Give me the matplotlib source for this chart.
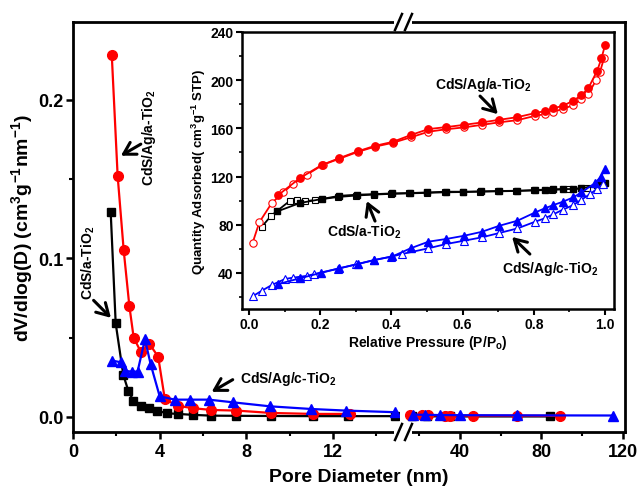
import numpy as np
import matplotlib
matplotlib.use("Agg")
import matplotlib.pyplot as plt
from matplotlib.lines import Line2D
from matplotlib.patches import Rectangle

# ================================
# Dados - distribuição de poros (gráfico principal)
# ================================
# segmento 1 (0-15 nm)
ag_a_x = [1.79, 2.06, 2.34, 2.6, 2.8, 3.13, 3.53, 3.93, 4.24, 4.85, 5.54, 6.39, 7.54, 9.16, 11.07, 12.76]
ag_a_y = [0.228, 0.152, 0.105, 0.070, 0.050, 0.041, 0.046, 0.038, 0.011, 0.007, 0.0055, 0.0044, 0.004, 0.0025, 0.0019, 0.0019]

ag_c_x = [1.81, 2.2, 2.4, 2.7, 2.98, 3.32, 3.58, 4.0, 4.7, 5.39, 6.27, 7.39, 9.08, 11.0, 12.6, 14.84]
ag_c_y = [0.0355, 0.0345, 0.029, 0.0286, 0.0286, 0.049, 0.0334, 0.013, 0.0109, 0.0109, 0.0109, 0.0092, 0.0067, 0.005, 0.004, 0.003]

a_x = [1.74, 1.97, 2.32, 2.55, 2.78, 3.13, 3.52, 3.88, 4.32, 4.85, 5.54, 6.39, 7.54, 9.16, 11.07, 12.69, 14.84]
a_y = [0.129, 0.059, 0.0265, 0.0166, 0.0103, 0.0071, 0.0055, 0.004, 0.0023, 0.0019, 0.0013, 0.0008, 0.0007, 0.0006, 0.0005, 0.0005, 0.0005]

# segmento 2 (depois da quebra)
ag_a_x2 = [15.5, 21.2, 24.4, 32.6, 35.1, 46.5, 67.8, 89.1]
ag_a_y2 = [0.0012, 0.001, 0.001, 0.0009, 0.0008, 0.0008, 0.0008, 0.0007]
ag_c_x2 = [17.1, 22.8, 30.2, 40.0, 67.8, 115.2]
ag_c_y2 = [0.0015, 0.0013, 0.0012, 0.0011, 0.001, 0.0009]
a_x2 = [16.3, 23.7, 35.1, 84.2]
a_y2 = [0.0004, 0.0004, 0.0003, 0.0003]

# ================================
# Dados - isotermas (inset)
# ================================
iso_ag_a_x = [0.082, 0.143, 0.204, 0.254, 0.305, 0.354, 0.404, 0.454, 0.504, 0.553, 0.604, 0.654, 0.703, 0.754,
              0.804, 0.831, 0.855, 0.881, 0.911, 0.934, 0.953, 0.978, 0.99, 1.0]
iso_ag_a_y = [104.6, 118.7, 129.5, 135.3, 140.9, 145.5, 148.8, 154.4, 159.4, 161, 162.9, 164.9, 167.1, 169.3,
              172.7, 174.3, 176.6, 178.7, 182.9, 187.6, 193.2, 207.8, 218, 229]
iso_ag_a_ox = [0.01, 0.029, 0.064, 0.096, 0.123, 0.162, 0.208, 0.254, 0.305, 0.354, 0.404, 0.454, 0.504, 0.553,
               0.604, 0.654, 0.703, 0.754, 0.804, 0.831, 0.855, 0.881, 0.911, 0.934, 0.953, 0.975, 0.986, 0.997]
iso_ag_a_oy = [64.8, 82, 98, 106.8, 113.7, 121.5, 129.8, 134.8, 140.4, 144.8, 148, 152.5, 157.2, 159.2,
               160.8, 162.9, 165, 166.8, 170.4, 171.8, 173.8, 176, 179.3, 184.3, 188.4, 200, 206.9, 218]

iso_a_x = [0.08, 0.143, 0.204, 0.254, 0.302, 0.352, 0.403, 0.452, 0.501, 0.553, 0.602, 0.652, 0.703, 0.754,
           0.804, 0.831, 0.855, 0.881, 0.911, 0.934, 0.978, 1.0]
iso_a_y = [91.1, 98, 101.3, 104, 104.9, 105.4, 106, 106.3, 106.8, 107.4, 107.4, 107.7, 108, 108.2,
           108.8, 109.1, 109.3, 109.6, 109.6, 110.2, 112.9, 115]
iso_a_ox = [0.036, 0.062, 0.115, 0.134, 0.157, 0.185, 0.25, 0.3, 0.35, 0.4, 0.45, 0.5, 0.55, 0.6, 0.65, 0.7,
            0.75, 0.8, 0.85, 0.9, 0.95, 0.99]
iso_a_oy = [78.3, 87.4, 99.9, 100.8, 99.5, 100.5, 103, 104.2, 105, 105.6, 106, 106.4, 106.9, 107.1, 107.4, 107.7,
            108, 108.4, 109, 109.5, 110.5, 113]

iso_ag_c_x = [0.082, 0.143, 0.201, 0.254, 0.305, 0.352, 0.403, 0.454, 0.504, 0.553, 0.604, 0.654, 0.703, 0.754,
              0.804, 0.831, 0.855, 0.881, 0.911, 0.934, 0.972, 0.988, 1.0]
iso_ag_c_y = [30.7, 35.5, 39.9, 43.8, 47.3, 50.7, 53.7, 60.4, 65.9, 68.1, 70.8, 74.1, 79.1, 83.3,
              90.2, 93.6, 96.3, 99, 102.7, 106.8, 114.6, 119.8, 126]
iso_ag_c_ox = [0.01, 0.036, 0.064, 0.101, 0.123, 0.164, 0.183, 0.25, 0.3, 0.35, 0.4, 0.429, 0.504, 0.553,
               0.604, 0.654, 0.703, 0.754, 0.804, 0.831, 0.855, 0.881, 0.911, 0.934, 0.958, 0.977, 0.995]
iso_ag_c_oy = [20.5, 25.2, 29.9, 34.9, 36, 37.6, 39, 43.5, 47, 50.5, 53.5, 55.6, 60.4, 63.9,
               66.7, 69.5, 73.1, 76.9, 82.5, 85.3, 88.6, 92.4, 96.3, 100.8, 105.4, 109.6, 113.7]

RED = "#ff0000"
BLUE = "#0000ff"
BLACK = "#000000"

plt.rcParams["font.family"] = ["Liberation Sans", "DejaVu Sans"]
plt.rcParams["font.weight"] = "bold"
plt.rcParams["axes.labelweight"] = "bold"
plt.rcParams["mathtext.fontset"] = "custom"
plt.rcParams["mathtext.rm"] = "Liberation Sans:bold"
plt.rcParams["mathtext.bf"] = "Liberation Sans:bold"
plt.rcParams["mathtext.it"] = "Liberation Sans:bold"
plt.rcParams["mathtext.default"] = "bf"

W, H = 638, 489
fig = plt.figure(figsize=(W / 100, H / 100), dpi=100)


def fx(px):
    return px / W


def fy(py):
    return (H - py) / H


# eixos do gráfico principal (eixo x quebrado)
ax1 = fig.add_axes([fx(73), fy(433), fx(400) - fx(73), fy(23) - fy(433)])
ax2 = fig.add_axes([fx(400), fy(433), fx(625) - fx(400), fy(23) - fy(433)], sharey=ax1)

ylim = (-0.0095, 0.249)
ax1.set_xlim(0, 15.09)
ax2.set_xlim(10.55, 121.0)
ax1.set_ylim(*ylim)

for ax in (ax1, ax2):
    for s in ax.spines.values():
        s.set_linewidth(2)
ax1.spines["right"].set_visible(False)
ax2.spines["left"].set_visible(False)

lkw = dict(lw=1.6, clip_on=False)
ax1.plot(a_x, a_y, color=BLACK, marker="s", ms=5.5, **lkw)
ax1.plot(ag_a_x, ag_a_y, color=RED, marker="o", ms=7, **lkw)
ax1.plot(ag_c_x, ag_c_y, color=BLUE, marker="^", ms=7.5, **lkw)
ax2.plot(a_x2, a_y2, color=BLACK, marker="s", ms=5.5, **lkw)
ax2.plot(ag_a_x2, ag_a_y2, color=RED, marker="o", ms=7, **lkw)
ax2.plot(ag_c_x2, ag_c_y2, color=BLUE, marker="^", ms=7.5, **lkw)

ax1.set_yticks([0.0, 0.1, 0.2])
ax1.set_yticks([0.05, 0.15], minor=True)
ax1.set_yticklabels(["0.0", "0.1", "0.2"])
ax1.set_xticks([0, 4, 8, 12])
ax1.set_xticks([2, 6, 10, 14], minor=True)
ax2.set_xticks([40, 80, 120])
ax2.set_xticks([20, 60, 100], minor=True)

for ax in (ax1, ax2):
    ax.tick_params(which="major", direction="out", length=5, width=1.8, labelsize=13, pad=3)
    ax.tick_params(which="minor", direction="out", length=3, width=1.5)
ax2.tick_params(axis="y", which="both", left=False, labelleft=False)
ax1.tick_params(axis="y", pad=2)

ax1.set_ylabel("dV/dlog(D) (cm$^{3}$g$^{-1}$nm$^{-1}$)", fontsize=14, fontweight="bold")
ax1.yaxis.set_label_coords(-0.115, 0.5)
fig.text(fx(359), fy(478), "Pore Diameter (nm)", fontsize=14, fontweight="bold", ha="center", va="center")

# marcas de quebra
for yb in (433, 23):
    fig.add_artist(Rectangle((fx(394), fy(yb + 3)), fx(412) - fx(394), fy(yb - 3) - fy(yb + 3),
                             transform=fig.transFigure, facecolor="white", edgecolor="none", zorder=5))
    for x0 in (395, 405):
        fig.add_artist(Line2D([fx(x0), fx(x0 + 7)], [fy(yb + 8), fy(yb - 8)],
                              transform=fig.transFigure, color="black", lw=1.8, zorder=6))

# anotações gráfico principal
akw = dict(arrowstyle="->,head_length=0.6,head_width=0.35", lw=2.2, color="black",
           mutation_scale=14, shrinkA=0, shrinkB=0)
ax1.annotate("", xy=(2.21, 0.1647), xytext=(3.13, 0.172), arrowprops=akw)
ax1.text(3.5, 0.177, "CdS/Ag/a-TiO$_2$", rotation=90, fontsize=10, fontweight="bold", ha="center", va="center")
ax1.annotate("", xy=(1.75, 0.0625), xytext=(0.95, 0.0735), arrowprops=akw)
ax1.text(0.69, 0.098, "CdS/a-TiO$_2$", rotation=90, fontsize=10, fontweight="bold", ha="center", va="center")
ax1.annotate("", xy=(6.4, 0.0158), xytext=(7.37, 0.0235), arrowprops=akw)
ax1.text(7.7, 0.0245, "CdS/Ag/c-TiO$_2$", fontsize=10, fontweight="bold", ha="left", va="center")

# ================================
# Inset - isotermas
# ================================
ins = fig.add_axes([fx(242), fy(310), fx(614) - fx(242), fy(33) - fy(310)])
ins.set_zorder(10)
ins.set_xlim(-0.0197, 1.0253)
ins.set_ylim(10, 240)
for s in ins.spines.values():
    s.set_linewidth(1.8)

ikw = dict(lw=1.3, clip_on=False)
ins.plot(iso_a_ox, iso_a_oy, color=BLACK, marker="s", ms=4.5, mfc="white", mew=0.8, **ikw)
ins.plot(iso_a_x, iso_a_y, color=BLACK, marker="s", ms=4.5, **ikw)
ins.plot(iso_ag_c_ox, iso_ag_c_oy, color=BLUE, marker="^", ms=5.5, mfc="white", mew=0.8, **ikw)
ins.plot(iso_ag_c_x, iso_ag_c_y, color=BLUE, marker="^", ms=5.5, **ikw)
ins.plot(iso_ag_a_ox, iso_ag_a_oy, color=RED, marker="o", ms=5.3, mfc="white", mew=0.8, **ikw)
ins.plot(iso_ag_a_x, iso_ag_a_y, color=RED, marker="o", ms=5.3, **ikw)

ins.set_xticks([0.0, 0.2, 0.4, 0.6, 0.8, 1.0])
ins.set_xticks([0.1, 0.3, 0.5, 0.7, 0.9], minor=True)
ins.set_yticks([40, 80, 120, 160, 200, 240])
ins.set_yticks([20, 60, 100, 140, 180, 220], minor=True)
ins.tick_params(which="major", direction="out", length=4, width=1.5, labelsize=10, pad=2)
ins.tick_params(which="minor", direction="out", length=2.5, width=1.2)

ins.set_xlabel("Relative Pressure (P/P$_o$)", fontsize=10, fontweight="bold", labelpad=1)
ins.set_ylabel("Quantity Adsorbed( cm$^{3}$g$^{-1}$ STP)", fontsize=9.5, fontweight="bold", labelpad=2)

ins.annotate("", xy=(0.699, 171.8), xytext=(0.649, 186.8), arrowprops=akw)
ins.text(0.522, 196.7, "CdS/Ag/a-TiO$_2$", fontsize=10, fontweight="bold", ha="left", va="center")
ins.annotate("", xy=(0.331, 99.6), xytext=(0.354, 83), arrowprops=akw)
ins.text(0.219, 74.7, "CdS/a-TiO$_2$", fontsize=10, fontweight="bold", ha="left", va="center")
ins.annotate("", xy=(0.739, 69.8), xytext=(0.789, 55.6), arrowprops=akw)
ins.text(0.711, 44, "CdS/Ag/c-TiO$_2$", fontsize=10, fontweight="bold", ha="left", va="center")

fig.savefig("out.png", dpi=100)
